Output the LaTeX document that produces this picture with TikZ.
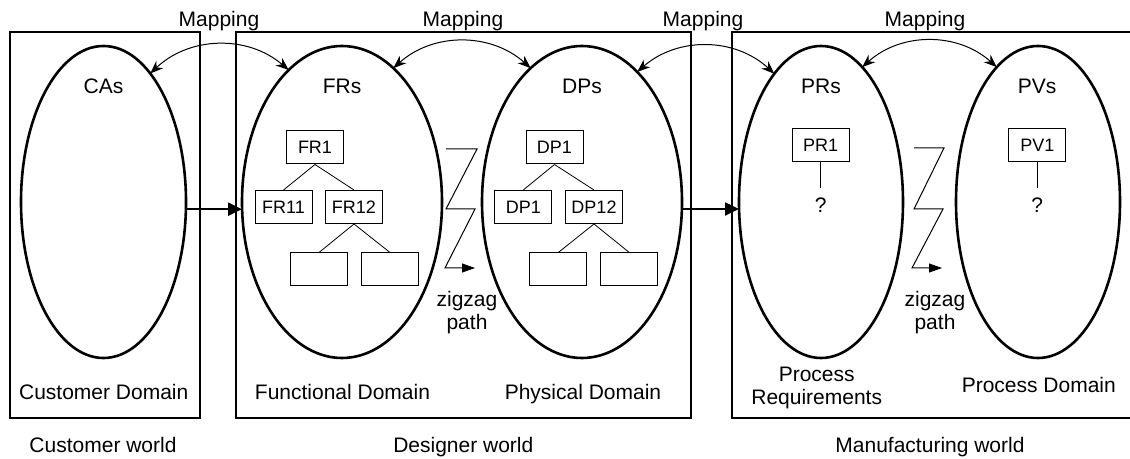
\documentclass[tikz,border=0pt]{standalone}
\usepackage{fontspec}
\setmainfont{Liberation Sans}
\usetikzlibrary{shapes.geometric,arrows.meta}

\tikzset{
	dom/.style={ellipse,draw,line width=1.3pt,inner sep=0pt,outer sep=0pt,minimum height=156pt},
	item/.style={draw,line width=0.5pt,minimum width=28.5pt,minimum height=16.5pt,inner sep=0pt,font=\fontsize{9}{11}\selectfont},
	worldbox/.style={line width=0.6pt},
	mapping/.style={{Stealth[length=6.5pt,width=5pt]}-{Stealth[length=6.5pt,width=5pt]},line width=0.5pt,bend left=42},
	flow/.style={-{Triangle[length=7pt,width=6.5pt]},line width=1.1pt},
	zzpath/.style={-{Triangle[length=6.5pt,width=4.5pt]},line width=0.5pt},
	txt/.style={anchor=base,inner sep=0pt,font=\fontsize{10.5}{11.65}\selectfont},
	qmark/.style={txt,inner ysep=4.8pt},
}

\begin{document}
\begin{tikzpicture}[x=0.5pt,y=-0.5pt]
	\useasboundingbox (0,0) rectangle (1130,459);
	
	%WORLDS
	\draw[worldbox] (10,32) rectangle (200,418);
	\draw[worldbox] (236,32) rectangle (691,418);
	\draw[worldbox] (1130,32) -| (732,418) -- (1130,418);
	
	%DOMAINS
	\node[dom,minimum width=82.5pt] (ca) at (103.5,202) {};
	\node[dom,minimum width=100pt] (fr) at (342,202) {};
	\node[dom,minimum width=100pt] (dp) at (582,202) {};
	\node[dom,minimum width=82pt] (pr) at (821,202) {};
	\node[dom,minimum width=82pt] (pv) at (1038,202) {};
	
	\node[txt] (cas) at (103.5,94) {CAs};
	\node[txt] (frs) at (342,94) {FRs};
	\node[txt] (dps) at (582,94) {DPs};
	\node[txt] (prs) at (821,94) {PRs};
	\node[txt] (pvs) at (1037,94) {PVs};
	
	%MAPPINGS
	\draw[mapping] (ca.70) to (fr.112);
	\draw[mapping] (fr.69) to (dp.111);
	\draw[mapping] (dp.67) to (pr.110);
	\draw[mapping] (pr.73) to (pv.107);
	\node[txt] (map1) at (219,27) {Mapping};
	\node[txt] (map2) at (463,27) {Mapping};
	\node[txt] (map3) at (703,27) {Mapping};
	\node[txt] (map4) at (925,27) {Mapping};
	
	\draw[flow] (ca.-5) -- (ca.-5 -| fr.west);
	\draw[flow] (dp.-4) -- (dp.-4 -| pr.west);
	
	%FR TREE
	\node[item] (fr1) at (315,147.5) {FR1};
	\node[item] (fr11) at (283.5,207) {FR11};
	\node[item] (fr12) at (354,207) {FR12};
	\node[item] (fr121) at (319,269.5) {};
	\node[item] (fr122) at (390,269.5) {};
	\draw (fr1.south) -- (fr11.north);
	\draw (fr1.south) -- (fr12.north);
	\draw (fr12.south) -- (fr121.north);
	\draw (fr12.south) -- (fr122.north);
	
	%DP TREE
	\node[item] (dp1) at (554.5,147.5) {DP1};
	\node[item] (dp11) at (523.3,207) {DP1};
	\node[item] (dp12) at (594,207) {DP12};
	\node[item] (dp121) at (558.3,269.5) {};
	\node[item] (dp122) at (629.3,269.5) {};
	\draw (dp1.south) -- (dp11.north);
	\draw (dp1.south) -- (dp12.north);
	\draw (dp12.south) -- (dp121.north);
	\draw (dp12.south) -- (dp122.north);
	
	%PR AND PV
	\node[item] (pr1) at (820.7,145) {PR1};
	\node[qmark] (prq) at (820.7,213) {?};
	\draw (pr1.south) -- (prq.north);
	\node[item] (pv1) at (1037.3,145) {PV1};
	\node[qmark] (pvq) at (1037.3,213) {?};
	\draw (pv1.south) -- (pvq.north);
	
	%ZIGZAGS
	\coordinate (zza) at (446,149);
	\coordinate (zzb) at (475,268);
	\draw[zzpath] (zza) -- ++(31,0) -- (446,209) -- ++(29,0) -- (445,268) -- (zzb);
	\node[txt,align=center] (zzt1) at (467,330) {zigzag\\path};
	\coordinate (zzc) at (914,148);
	\coordinate (zzd) at (942,268);
	\draw[zzpath] (zzc) -- ++(30,0) -- (914,209) -- ++(29,0) -- (912,268) -- (zzd);
	\node[txt,align=center] (zzt2) at (935,330) {zigzag\\path};
	
	%DOMAIN NAMES
	\node[txt] (cdom) at (103.7,400) {Customer Domain};
	\node[txt] (fdom) at (342.5,400) {Functional Domain};
	\node[txt] (pdom) at (583,400) {Physical Domain};
	\node[txt,align=center] (rdom) at (816.7,405) {Process\\Requirements};
	\node[txt] (vdom) at (1038.8,393) {Process Domain};
	
	%WORLD NAMES
	\node[txt] (cw) at (103,453) {Customer world};
	\node[txt] (dw) at (463.3,453) {Designer world};
	\node[txt] (mw) at (930,453) {Manufacturing world};
\end{tikzpicture}
\end{document}
